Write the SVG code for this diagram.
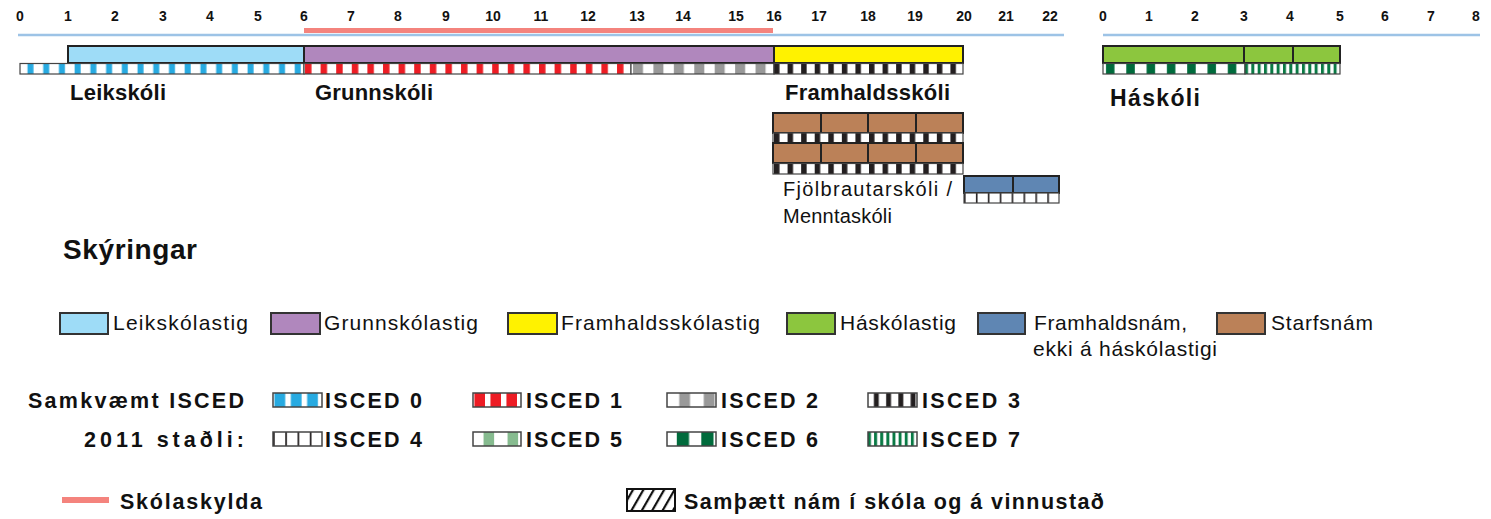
<svg xmlns="http://www.w3.org/2000/svg" width="1491" height="519" viewBox="0 0 1491 519">
<style>
.ax{font-family:"Liberation Sans",Arial,sans-serif;font-weight:bold;font-size:14px;fill:#111;text-anchor:middle}
.big{font-family:"Liberation Sans",Arial,sans-serif;font-weight:bold;font-size:22px;fill:#111}
.reg{font-family:"Liberation Sans",Arial,sans-serif;font-size:21px;fill:#111}
.lb{font-family:"Liberation Sans",Arial,sans-serif;font-weight:bold;font-size:21.5px;fill:#111}
.bar{stroke:#222;stroke-width:2}
.strip{stroke:#444;stroke-width:1.2}
.sw{stroke:#333;stroke-width:2}
.isw{stroke:#444;stroke-width:1.5}
</style>
<defs>
<pattern id="i0" patternUnits="userSpaceOnUse" x="20" y="0" width="15.72" height="519"><rect width="15.72" height="519" fill="#fff"/><rect x="7.5" width="6" height="519" fill="#27aae1"/></pattern>
<pattern id="i1" patternUnits="userSpaceOnUse" x="304" y="0" width="15.6" height="519"><rect width="15.6" height="519" fill="#fff"/><rect x="1" width="6.5" height="519" fill="#ed1c24"/></pattern>
<pattern id="i2" patternUnits="userSpaceOnUse" x="631" y="0" width="20.43" height="519"><rect width="20.43" height="519" fill="#fff"/><rect x="2" width="10" height="519" fill="#999"/></pattern>
<pattern id="i3" patternUnits="userSpaceOnUse" x="774" y="0" width="13.57" height="519"><rect width="13.57" height="519" fill="#fff"/><rect x="0" width="5.5" height="519" fill="#231f20"/></pattern>
<pattern id="i4" patternUnits="userSpaceOnUse" x="964" y="0" width="11.9" height="519"><rect width="11.9" height="519" fill="#fff"/><rect x="0" width="1.6" height="519" fill="#231f20"/></pattern>
<pattern id="i6" patternUnits="userSpaceOnUse" x="1103" y="0" width="20.3" height="519"><rect width="20.3" height="519" fill="#fff"/><rect x="3" width="8.5" height="519" fill="#006b3c"/></pattern>
<pattern id="i7" patternUnits="userSpaceOnUse" x="1245" y="0" width="6.33" height="519"><rect width="6.33" height="519" fill="#fff"/><rect x="0" width="3" height="519" fill="#0a7a45"/></pattern>
<pattern id="l0" patternUnits="objectBoundingBox" patternContentUnits="objectBoundingBox" width="0.3333" height="1"><rect width="0.3333" height="1" fill="#fff"/><rect x="0.03" width="0.22" height="1" fill="#27aae1"/></pattern>
<pattern id="l1" patternUnits="objectBoundingBox" patternContentUnits="objectBoundingBox" width="0.3333" height="1"><rect width="0.3333" height="1" fill="#fff"/><rect x="0.03" width="0.22" height="1" fill="#ed1c24"/></pattern>
<pattern id="l2" patternUnits="objectBoundingBox" patternContentUnits="objectBoundingBox" width="0.5" height="1"><rect width="0.5" height="1" fill="#fff"/><rect x="0.25" width="0.22" height="1" fill="#999"/></pattern>
<pattern id="l3" patternUnits="objectBoundingBox" patternContentUnits="objectBoundingBox" width="0.25" height="1"><rect width="0.25" height="1" fill="#fff"/><rect x="0.12" width="0.1" height="1" fill="#231f20"/></pattern>
<pattern id="l4" patternUnits="objectBoundingBox" patternContentUnits="objectBoundingBox" width="0.25" height="1"><rect width="0.25" height="1" fill="#fff"/><rect x="0" width="0.035" height="1" fill="#231f20"/></pattern>
<pattern id="l5" patternUnits="objectBoundingBox" patternContentUnits="objectBoundingBox" width="0.5" height="1"><rect width="0.5" height="1" fill="#fff"/><rect x="0.22" width="0.22" height="1" fill="#86bb8f"/></pattern>
<pattern id="l6" patternUnits="objectBoundingBox" patternContentUnits="objectBoundingBox" width="0.5" height="1"><rect width="0.5" height="1" fill="#fff"/><rect x="0.2" width="0.25" height="1" fill="#006b3c"/></pattern>
<pattern id="l7" patternUnits="objectBoundingBox" patternContentUnits="objectBoundingBox" width="0.125" height="1"><rect width="0.125" height="1" fill="#fff"/><rect x="0" width="0.06" height="1" fill="#0a7a45"/></pattern>
<pattern id="hatch" patternUnits="userSpaceOnUse" width="9" height="9" patternTransform="rotate(30)"><rect width="9" height="9" fill="#fff"/><rect x="0" width="2.2" height="9" fill="#111"/></pattern>
</defs>

<g id="connectors">
<line x1="18" y1="35" x2="1064" y2="35" stroke="#9dc3e6" stroke-width="2.5"/>
<line x1="1103" y1="35" x2="1480" y2="35" stroke="#9dc3e6" stroke-width="2.5"/>
<line x1="304" y1="30.5" x2="773" y2="30.5" stroke="#f4837d" stroke-width="5"/>
</g>

<g id="axis-left">
<text class="ax" x="20" y="21">0</text><text class="ax" x="68" y="21">1</text><text class="ax" x="115" y="21">2</text><text class="ax" x="163" y="21">3</text><text class="ax" x="210" y="21">4</text><text class="ax" x="258" y="21">5</text><text class="ax" x="304" y="21">6</text><text class="ax" x="351" y="21">7</text><text class="ax" x="398" y="21">8</text><text class="ax" x="446" y="21">9</text><text class="ax" x="493" y="21">10</text><text class="ax" x="541" y="21">11</text><text class="ax" x="588" y="21">12</text><text class="ax" x="637" y="21">13</text><text class="ax" x="683" y="21">14</text><text class="ax" x="736" y="21">15</text><text class="ax" x="774" y="21">16</text><text class="ax" x="819" y="21">17</text><text class="ax" x="868" y="21">18</text><text class="ax" x="915" y="21">19</text><text class="ax" x="964" y="21">20</text><text class="ax" x="1006" y="21">21</text><text class="ax" x="1050" y="21">22</text>
</g>
<g id="axis-right">
<text class="ax" x="1103" y="21">0</text><text class="ax" x="1149" y="21">1</text><text class="ax" x="1195" y="21">2</text><text class="ax" x="1244" y="21">3</text><text class="ax" x="1290" y="21">4</text><text class="ax" x="1340" y="21">5</text><text class="ax" x="1385" y="21">6</text><text class="ax" x="1431" y="21">7</text><text class="ax" x="1476" y="21">8</text>
</g>

<g id="leikskoli">
<rect class="bar" x="68" y="46" width="236" height="17" fill="#9edcf7"/>
<rect class="strip" x="20" y="63.5" width="284" height="10.5" fill="url(#i0)"/>
<text class="big" x="70" y="100" textLength="96" lengthAdjust="spacing">Leikskóli</text>
</g>

<g id="grunnskoli">
<rect class="bar" x="304" y="46" width="470" height="17" fill="#b087bd"/>
<rect class="strip" x="304" y="63.5" width="327" height="10.5" fill="url(#i1)"/>
<rect class="strip" x="631" y="63.5" width="143" height="10.5" fill="url(#i2)"/>
<text class="big" x="315" y="100" textLength="118" lengthAdjust="spacing">Grunnskóli</text>
</g>

<g id="framhaldsskoli">
<rect class="bar" x="774" y="46" width="189" height="17" fill="#fff200"/>
<rect class="strip" x="774" y="63.5" width="189" height="10.5" fill="url(#i3)"/>
<text class="big" x="785" y="100" textLength="165" lengthAdjust="spacing">Framhaldsskóli</text>
</g>

<g id="starfsnam">
<rect class="bar" x="773" y="113" width="48" height="20" fill="#bb8158"/>
<rect class="bar" x="821" y="113" width="47" height="20" fill="#bb8158"/>
<rect class="bar" x="868" y="113" width="48" height="20" fill="#bb8158"/>
<rect class="bar" x="916" y="113" width="47" height="20" fill="#bb8158"/>
<rect class="strip" x="773" y="133" width="190" height="10" fill="url(#i3)"/>
<rect class="bar" x="773" y="143" width="48" height="20" fill="#bb8158"/>
<rect class="bar" x="821" y="143" width="47" height="20" fill="#bb8158"/>
<rect class="bar" x="868" y="143" width="48" height="20" fill="#bb8158"/>
<rect class="bar" x="916" y="143" width="47" height="20" fill="#bb8158"/>
<rect class="strip" x="773" y="163.5" width="190" height="10.5" fill="url(#i3)"/>
</g>

<g id="framhaldsnam">
<rect class="bar" x="964" y="176" width="49" height="17" fill="#5f86b3"/>
<rect class="bar" x="1013" y="176" width="46" height="17" fill="#5f86b3"/>
<rect class="strip" x="964" y="193" width="95" height="10" fill="url(#i4)"/>
<text class="reg" x="783" y="196" textLength="169" lengthAdjust="spacing" style="font-size:20px">Fjölbrautarskóli /</text>
<text class="reg" x="783" y="223" textLength="109" lengthAdjust="spacing" style="font-size:20px">Menntaskóli</text>
</g>

<g id="haskoli">
<rect class="bar" x="1103" y="46" width="141" height="17" fill="#8cc63e"/>
<rect class="bar" x="1244" y="46" width="49" height="17" fill="#8cc63e"/>
<rect class="bar" x="1293" y="46" width="47" height="17" fill="#8cc63e"/>
<rect class="strip" x="1103" y="63.5" width="142" height="10.5" fill="url(#i6)"/>
<rect class="strip" x="1245" y="63.5" width="95" height="10.5" fill="url(#i7)"/>
<text class="big" x="1110" y="106" textLength="90" lengthAdjust="spacing" style="font-size:23px">Háskóli</text>
</g>

<g id="legend-title">
<text class="big" x="63" y="259" textLength="134" lengthAdjust="spacing" style="font-size:28px">Skýringar</text>
</g>

<g id="legend-levels">
<rect class="sw" x="60" y="313" width="48" height="21" fill="#9edcf7"/>
<text class="reg" x="113" y="330" textLength="135" lengthAdjust="spacing">Leikskólastig</text>
<rect class="sw" x="271" y="313" width="49" height="21" fill="#b087bd"/>
<text class="reg" x="324" y="330" textLength="154" lengthAdjust="spacing">Grunnskólastig</text>
<rect class="sw" x="508" y="313" width="49" height="21" fill="#fff200"/>
<text class="reg" x="561" y="330" textLength="199" lengthAdjust="spacing">Framhaldsskólastig</text>
<rect class="sw" x="787" y="313" width="48" height="21" fill="#8cc63e"/>
<text class="reg" x="840" y="330" textLength="116" lengthAdjust="spacing">Háskólastig</text>
<rect class="sw" x="978" y="313" width="47" height="21" fill="#5f86b3"/>
<text class="reg" x="1034" y="330" textLength="153" lengthAdjust="spacing">Framhaldsnám,</text>
<text class="reg" x="1033" y="356" textLength="184" lengthAdjust="spacing">ekki á háskólastigi</text>
<rect class="sw" x="1217" y="313" width="48" height="21" fill="#bb8158"/>
<text class="reg" x="1271" y="330" textLength="102" lengthAdjust="spacing">Starfsnám</text>
</g>

<g id="legend-isced">
<text class="lb" x="244" y="408" text-anchor="end" textLength="216" lengthAdjust="spacing">Samkvæmt ISCED</text>
<text class="lb" x="244" y="447" text-anchor="end" textLength="160" lengthAdjust="spacing">2011 staðli:</text>
<rect class="isw" x="273" y="393" width="49" height="14" fill="url(#l0)"/>
<text class="lb" x="325" y="408" textLength="97" lengthAdjust="spacing">ISCED 0</text>
<rect class="isw" x="473" y="393" width="48" height="14" fill="url(#l1)"/>
<text class="lb" x="526" y="408" textLength="96" lengthAdjust="spacing">ISCED 1</text>
<rect class="isw" x="667" y="393" width="49" height="14" fill="url(#l2)"/>
<text class="lb" x="721" y="408" textLength="97" lengthAdjust="spacing">ISCED 2</text>
<rect class="isw" x="868" y="393" width="49" height="14" fill="url(#l3)"/>
<text class="lb" x="922" y="408" textLength="98" lengthAdjust="spacing">ISCED 3</text>
<rect class="isw" x="273" y="432" width="49" height="14" fill="url(#l4)"/>
<text class="lb" x="325" y="447" textLength="97" lengthAdjust="spacing">ISCED 4</text>
<rect class="isw" x="473" y="432" width="48" height="14" fill="url(#l5)"/>
<text class="lb" x="526" y="447" textLength="96" lengthAdjust="spacing">ISCED 5</text>
<rect class="isw" x="667" y="432" width="49" height="14" fill="url(#l6)"/>
<text class="lb" x="721" y="447" textLength="97" lengthAdjust="spacing">ISCED 6</text>
<rect class="isw" x="868" y="432" width="49" height="14" fill="url(#l7)"/>
<text class="lb" x="922" y="447" textLength="98" lengthAdjust="spacing">ISCED 7</text>
</g>

<g id="legend-bottom">
<line x1="62" y1="500" x2="109" y2="500" stroke="#f4837d" stroke-width="6"/>
<text class="lb" x="120" y="509" textLength="142" lengthAdjust="spacing">Skólaskylda</text>
<rect x="627" y="489" width="48" height="22" fill="url(#hatch)" stroke="#111" stroke-width="2"/>
<text class="lb" x="684" y="509" textLength="420" lengthAdjust="spacing">Samþætt nám í skóla og á vinnustað</text>
</g>
</svg>
